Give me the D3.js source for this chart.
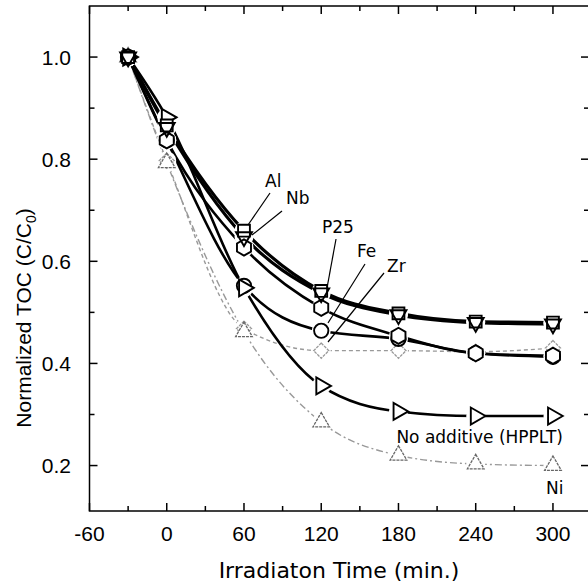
<!DOCTYPE html>
<html>
<head>
<meta charset="utf-8">
<script src="https://cdn.jsdelivr.net/npm/d3@7"></script>
<style>
  html, body { margin: 0; padding: 0; background: #fff; }
  svg { display: block; }
</style>
</head>
<body>
<svg id="chart" width="588" height="588"></svg>
<script>
// irradiation times (min.)
const times = [-30, 0, 60, 120, 180, 240, 300];

// normalized TOC
const alValues    = [1.0, 0.866, 0.660, 0.542, 0.498, 0.482, 0.480];
const nbValues    = [1.0, 0.862, 0.648, 0.538, 0.495, 0.480, 0.477];
const p25Values   = [1.0, 0.837, 0.627, 0.509, 0.454, 0.420, 0.415];
const feValues    = [1.0, 0.837, 0.552, 0.464, 0.448, 0.420, 0.413];
const zrValues    = [1.0, 0.797, 0.468, 0.425, 0.425, 0.423, 0.430];
const noAddValues = [1.0, 0.882, 0.548, 0.356, 0.306, 0.297, 0.297];
const niValues    = [1.0, 0.793, 0.462, 0.285, 0.220, 0.203, 0.200];

const xTicks = [-60, 0, 60, 120, 180, 240, 300];
const yTicks = [0.2, 0.4, 0.6, 0.8, 1.0];

const svg = d3.select("#chart");
const plotL = 89.5, plotR = 589, plotT = 6, plotB = 511;

const x = d3.scaleLinear().domain([-60, 328]).range([plotL, plotR]);
const y = d3.scaleLinear().domain([0.111, 1.1]).range([plotB, plotT]);

const hexagon = {
  draw(ctx, size) {
    const r = Math.sqrt(size / (1.5 * Math.sqrt(3)));
    for (let i = 0; i < 6; i++) {
      const a = Math.PI / 6 + i * Math.PI / 3;
      const px = r * Math.cos(a), py = r * Math.sin(a);
      if (i === 0) ctx.moveTo(px, py); else ctx.lineTo(px, py);
    }
    ctx.closePath();
  }
};

const series = [
  { name: "Zr", values: zrValues, shape: d3.symbolSquare, size: 115, rot: 45, color: "#999", width: 1.4, dash: "4,3", mstroke: "#999", fill: "#fff" },
  { name: "Ni", values: niValues, shape: d3.symbolTriangle, size: 120, rot: 0, color: "#999", width: 1.4, dash: "7,3,2,3", mstroke: "#666", fill: "#fff" },
  { name: "Fe", values: feValues, shape: d3.symbolCircle, size: 160, rot: 0, color: "#000", width: 2.6, dash: null, mstroke: "#000", fill: "#fff" },
  { name: "No additive", values: noAddValues, shape: d3.symbolTriangle, size: 125, rot: 90, color: "#000", width: 2.6, dash: null, mstroke: "#000", fill: "#fff" },
  { name: "P25", values: p25Values, shape: hexagon, size: 170, rot: 0, color: "#000", width: 2.6, dash: null, mstroke: "#000", fill: "#fff" },
  { name: "Al", values: alValues, shape: d3.symbolSquare, size: 140, rot: 0, color: "#000", width: 3.2, dash: null, mstroke: "#000", fill: "#fff" },
  { name: "Nb", values: nbValues, shape: d3.symbolTriangle, size: 110, rot: 180, color: "#000", width: 3.2, dash: null, mstroke: "#000", fill: "none" }
];

const line = d3.line()
  .x((d, i) => x(times[i]))
  .y(d => y(d))
  .curve(d3.curveMonotoneX);

// curves
svg.append("g").selectAll("path")
  .data(series)
  .join("path")
  .attr("d", s => line(s.values))
  .attr("fill", "none")
  .attr("stroke", s => s.color)
  .attr("stroke-width", s => s.width)
  .attr("stroke-dasharray", s => s.dash);

// gaps around the symbols
const pts = series.flatMap(s => s.values.map((v, i) => ({ s, t: times[i], v })));
svg.append("g").selectAll("circle")
  .data(pts)
  .join("circle")
  .attr("cx", d => x(d.t))
  .attr("cy", d => y(d.v))
  .attr("r", 9.5)
  .attr("fill", "#fff");

// symbols
svg.append("g").selectAll("path")
  .data(pts)
  .join("path")
  .attr("transform", d => `translate(${x(d.t)},${y(d.v)}) rotate(${d.s.rot})`)
  .attr("d", d => d3.symbol(d.s.shape, d.s.size)())
  .attr("fill", d => d.s.fill)
  .attr("stroke", d => d.s.mstroke)
  .attr("stroke-width", d => d.s.color === "#000" ? 1.9 : 1.3)
  .attr("stroke-dasharray", d => d.s.color === "#000" ? null : "3,1");

// frame and ticks
const xMinor = d3.range(-30, 328, 60);
const yMinor = d3.range(0.3, 1.1, 0.2);

const ax = svg.append("g").attr("stroke", "#000").attr("stroke-width", 1.5);
ax.append("rect")
  .attr("x", plotL).attr("y", plotT)
  .attr("width", plotR - plotL).attr("height", plotB - plotT)
  .attr("fill", "none");

function ticksX(vals, len) {
  vals.forEach(v => {
    ax.append("line").attr("x1", x(v)).attr("x2", x(v)).attr("y1", plotB).attr("y2", plotB - len);
    ax.append("line").attr("x1", x(v)).attr("x2", x(v)).attr("y1", plotT).attr("y2", plotT + len);
  });
}
function ticksY(vals, len) {
  vals.forEach(v => {
    ax.append("line").attr("y1", y(v)).attr("y2", y(v)).attr("x1", plotL).attr("x2", plotL + len);
    ax.append("line").attr("y1", y(v)).attr("y2", y(v)).attr("x1", plotR).attr("x2", plotR - len);
  });
}
ticksX(xTicks, 8);
ticksX(xMinor, 5);
ticksY(yTicks, 8);
ticksY(yMinor, 5);

const tickFont = "'Liberation Sans', Arial, sans-serif";

svg.append("g").selectAll("text")
  .data(xTicks)
  .join("text")
  .attr("x", d => x(d))
  .attr("y", 541)
  .attr("text-anchor", "middle")
  .attr("font-family", tickFont)
  .attr("font-size", 21)
  .text(d => d);

svg.append("g").selectAll("text")
  .data(yTicks)
  .join("text")
  .attr("x", 71)
  .attr("y", d => y(d) + 7.5)
  .attr("text-anchor", "end")
  .attr("font-family", tickFont)
  .attr("font-size", 21)
  .text(d => d3.format(".1f")(d));

svg.append("text")
  .attr("x", 339)
  .attr("y", 578)
  .attr("text-anchor", "middle")
  .attr("font-family", "'DejaVu Sans', Verdana, sans-serif")
  .attr("font-size", 22)
  .text("Irradiaton Time (min.)");

const yt = svg.append("text")
  .attr("transform", "translate(31,318) rotate(-90)")
  .attr("text-anchor", "middle")
  .attr("font-family", tickFont)
  .attr("font-size", 21);
yt.append("tspan").text("Normalized TOC (C/C");
yt.append("tspan").attr("font-size", 14).attr("dy", 5).text("0");
yt.append("tspan").attr("dy", -5).text(")");

// annotations
const labelFont = "'DejaVu Sans', Verdana, sans-serif";
const notes = [
  { text: "Al", tx: 265, ty: 187, anchor: "start", x1: 270, y1: 193, x2: 248, y2: 225 },
  { text: "Nb", tx: 286, ty: 204, anchor: "start", x1: 282, y1: 211, x2: 252, y2: 235 },
  { text: "P25", tx: 322, ty: 233, anchor: "start", x1: 336, y1: 239, x2: 327, y2: 288 },
  { text: "Fe", tx: 357, ty: 257, anchor: "start", x1: 365, y1: 264, x2: 328, y2: 323 },
  { text: "Zr", tx: 387, ty: 272, anchor: "start", x1: 384, y1: 273, x2: 328, y2: 342 },
  { text: "No additive (HPPLT)", tx: 563, ty: 443, anchor: "end" },
  { text: "Ni", tx: 546, ty: 494, anchor: "start" }
];
svg.append("g").selectAll("line")
  .data(notes.filter(n => n.x1 !== undefined))
  .join("line")
  .attr("x1", d => d.x1).attr("y1", d => d.y1)
  .attr("x2", d => d.x2).attr("y2", d => d.y2)
  .attr("stroke", "#000").attr("stroke-width", 1.2);
svg.append("g").selectAll("text")
  .data(notes)
  .join("text")
  .attr("x", d => d.tx).attr("y", d => d.ty)
  .attr("text-anchor", d => d.anchor)
  .attr("font-family", labelFont)
  .attr("font-size", 17)
  .text(d => d.text);
</script>
</body>
</html>
